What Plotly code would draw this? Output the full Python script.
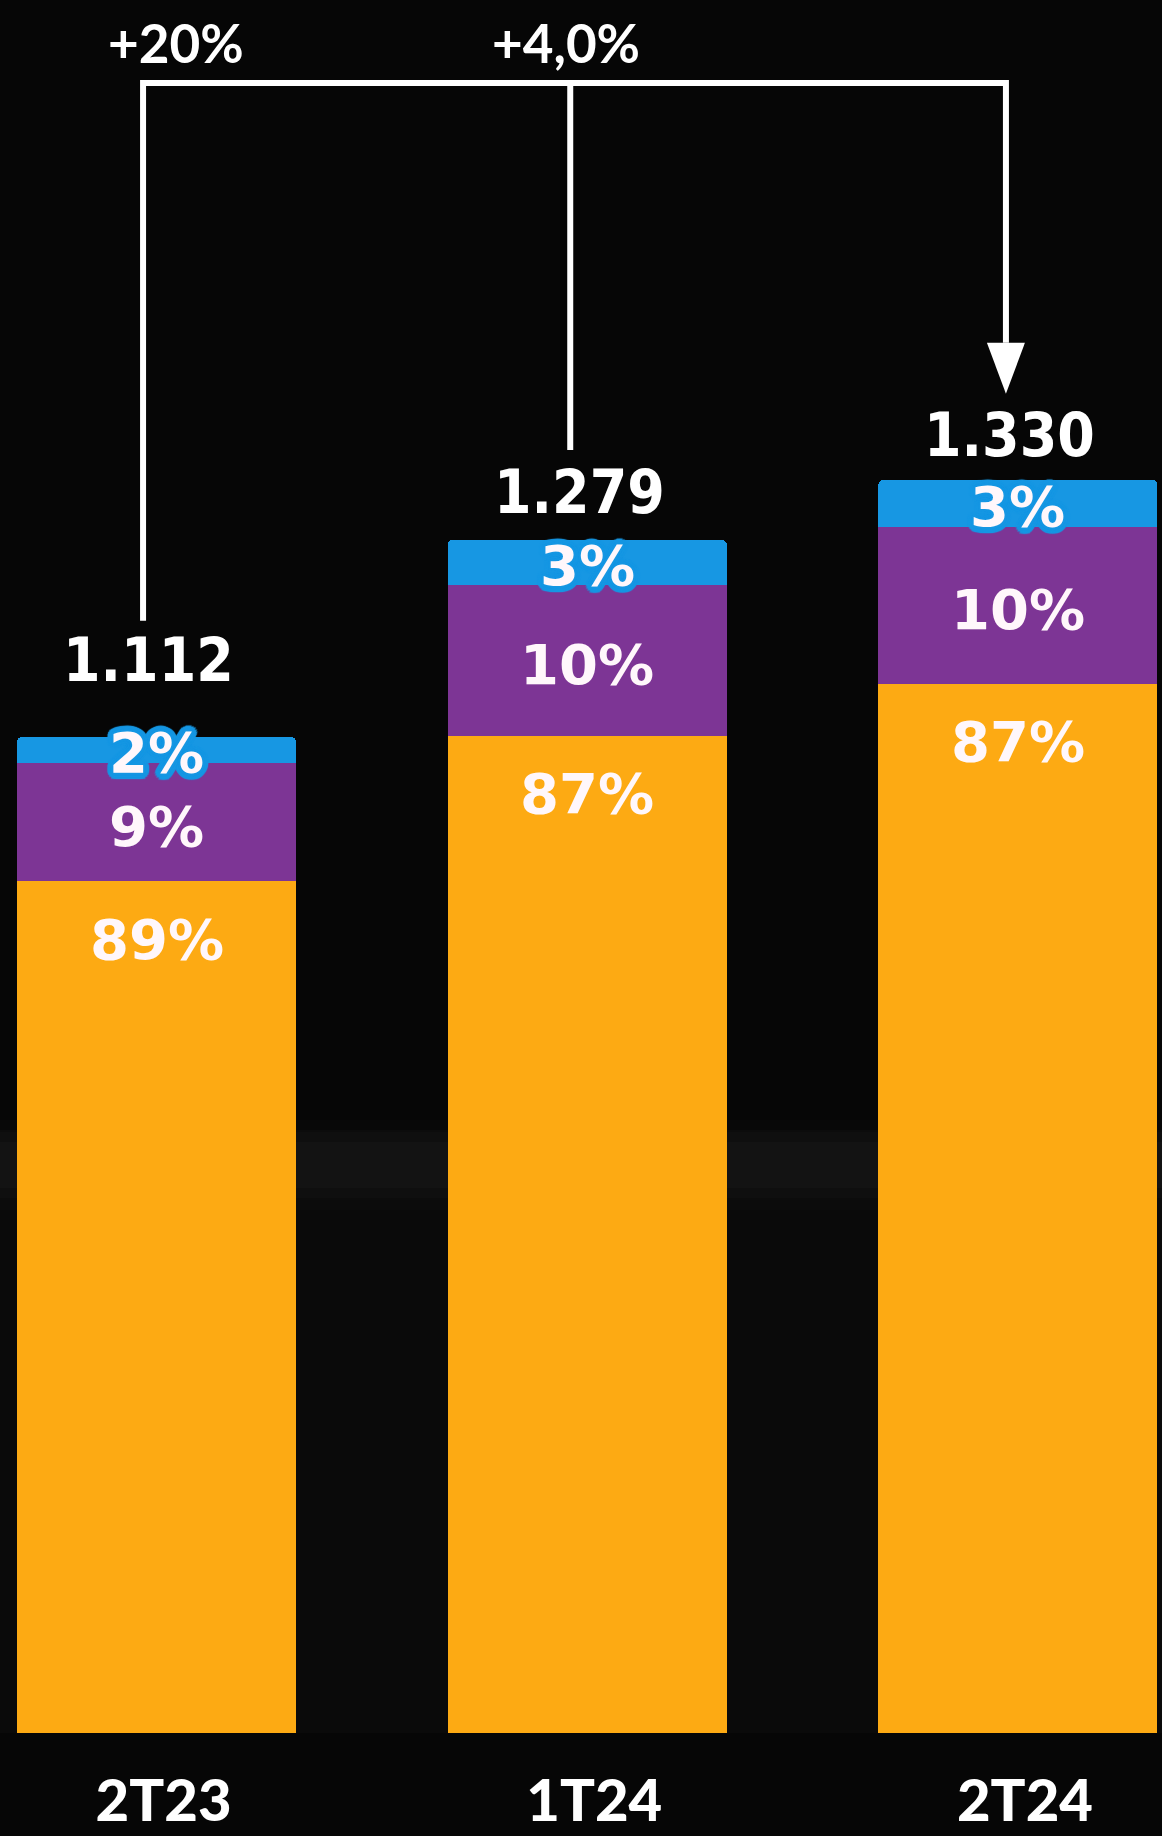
import math
import plotly.graph_objects as go

# Quarterly totals and mix shares (%) per segment
quarters = ["2T23", "1T24", "2T24"]
totals = [1112, 1279, 1330]
share_orange = [89, 87, 87]
share_purple = [9, 10, 10]
share_blue = [2, 3, 3]
change_labels = ["+20%", "+4,0%"]

ORANGE = "#FDAA13"
PURPLE = "#7D3595"
BLUE = "#1797E3"
TEXT = "#FFF7FB"
BG = "#060606"

W, H = 1162, 1836
MB = 103
PLOT_H = H - MB
Y_MIN, Y_MAX = 267, 1737
PX_Y = PLOT_H / (Y_MAX - Y_MIN)          # pixels per data unit (y)
X_MIN, X_MAX = -0.3635, 2.3345
PX_X = W / (X_MAX - X_MIN)               # pixels per category step (x)


def seg(vals, shares):
    return [v * s / 100 for v, s in zip(vals, shares)]


orange = seg(totals, share_orange)
purple = seg(totals, share_purple)
blue = seg(totals, share_blue)

fig = go.Figure()
for vals, color in [(orange, ORANGE), (purple, PURPLE), (blue, BLUE)]:
    fig.add_bar(
        x=quarters, y=vals, width=0.648,
        marker=dict(color=color, line=dict(width=0)),
        hoverinfo="skip", showlegend=False,
    )

ann = []

# Totals above the bars
value_lift = [77, 48, 45]
for i, (q, t) in enumerate(zip(quarters, totals)):
    ann.append(dict(
        x=q, y=t, xref="x", yref="y", yanchor="middle", xanchor="center",
        yshift=value_lift[i], xshift=-8, showarrow=False,
        text=f"{t:,}".replace(",", "."),
        font=dict(family="DejaVu Sans Condensed, DejaVu Sans", size=60,
                  color="white", weight="bold"),
    ))

# Share labels inside the stacks
pct_font = dict(family="DejaVu Sans, Verdana", size=56, color=TEXT, weight="bold")
ring = []
for r in (2, 4, 6):
    for k in range(16):
        a = 2 * math.pi * k / 16
        ring.append(f"{r * math.cos(a):.1f}px {r * math.sin(a):.1f}px 1px {BLUE}")
outline = ", ".join(ring)
for i, q in enumerate(quarters):
    ann.append(dict(x=q, y=orange[i], xref="x", yref="y", yanchor="middle",
                    yshift=-58, showarrow=False, text=f"{share_orange[i]}%",
                    font=pct_font))
    ann.append(dict(x=q, y=orange[i] + purple[i] / 2, xref="x", yref="y",
                    yanchor="middle", yshift=-4, showarrow=False,
                    text=f"{share_purple[i]}%", font=pct_font))
    ann.append(dict(x=q, y=orange[i] + purple[i] + blue[i] / 2, xref="x", yref="y",
                    yanchor="middle", yshift=-3, showarrow=False,
                    text=f"{share_blue[i]}%", font=dict(pct_font, shadow=outline)))

# Growth labels above the bracket
for txt, xc in zip(change_labels, [176, 566]):
    ann.append(dict(
        x=xc / W, y=(PLOT_H - 42) / PLOT_H, xref="paper", yref="paper",
        xanchor="center", yanchor="middle", showarrow=False, text=txt,
        font=dict(family="Lato", size=53, color="white", weight="bold"),
    ))


def xd(i, dpx):
    return i + dpx / PX_X


def yd_top(py):
    return Y_MIN + (PLOT_H - py) / PX_Y


line_y = yd_top(83)
x_left, x_mid, x_right = xd(0, -13.5), xd(1, -17), xd(2, -12)
arrow_tip = totals[2] + 86 / PX_Y
arrow_base = totals[2] + 137 / PX_Y
half = 19 / PX_X

shapes = [
    # faint lighter haze across the lower background
    dict(type="rect", xref="paper", yref="y", x0=0, x1=1,
         y0=Y_MIN - 200, y1=yd_top(1130), fillcolor="rgba(255,255,255,0.02)",
         line_width=0, layer="below"),
]
for k, (top, bot, alpha) in enumerate([(1120, 1210, 0.012), (1132, 1198, 0.015),
                                       (1142, 1188, 0.018)]):
    shapes.append(dict(type="rect", xref="paper", yref="y", x0=0, x1=1,
                       y0=yd_top(bot), y1=yd_top(top),
                       fillcolor=f"rgba(255,255,255,{alpha})",
                       line_width=0, layer="below"))

shapes += [
    dict(type="path", xref="x", yref="y",
         path=(f"M {x_left},{totals[0] + 116 / PX_Y} L {x_left},{line_y} "
               f"L {x_right},{line_y} L {x_right},{arrow_base}"),
         line=dict(color="white", width=6)),
    dict(type="line", xref="x", yref="y", x0=x_mid, x1=x_mid,
         y0=line_y, y1=totals[1] + 90 / PX_Y, line=dict(color="white", width=6)),
    dict(type="path", xref="x", yref="y",
         path=(f"M {x_right - half},{arrow_base} L {x_right + half},{arrow_base} "
               f"L {x_right},{arrow_tip} Z"),
         fillcolor="white", line=dict(color="white", width=0)),
]

fig.update_layout(
    width=W, height=H, barmode="stack", barcornerradius=5,
    margin=dict(l=0, r=0, t=0, b=MB, autoexpand=False),
    paper_bgcolor=BG, plot_bgcolor=BG,
    annotations=ann, shapes=shapes,
    xaxis=dict(range=[X_MIN, X_MAX], showgrid=False, zeroline=False,
               showline=False, ticks="", ticklabelstandoff=29, ticklabelshift=7,
               automargin=False,
               tickfont=dict(family="Lato", size=58, color="white", weight=900)),
    yaxis=dict(range=[Y_MIN, Y_MAX], visible=False, showgrid=False,
               automargin=False),
)

fig.write_html("out.html")
